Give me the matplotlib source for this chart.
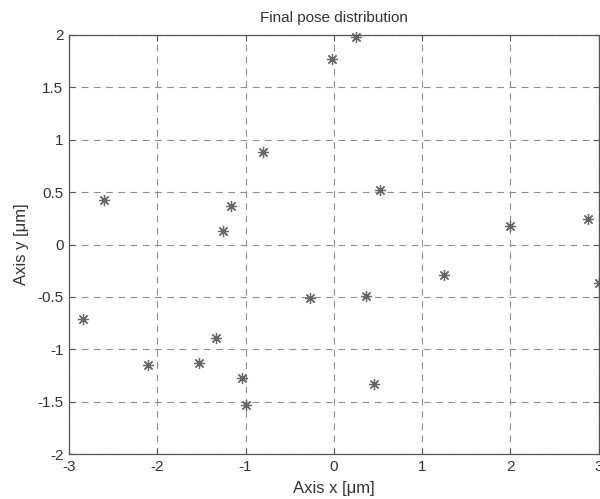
import numpy as np
import matplotlib.pyplot as plt

plt.rcParams['font.family'] = ['Liberation Sans', 'DejaVu Sans']

# final poses
pose_x = [-2.60, -2.84, -2.10, -1.53, -1.33, -1.04, -1.00, -1.26, -1.16, -0.80,
          -0.02, 0.25, 0.52, -0.27, 0.36, 0.45, 1.25, 2.00, 2.88, 3.00]
pose_y = [0.42, -0.71, -1.15, -1.13, -0.89, -1.27, -1.53, 0.13, 0.37, 0.88,
          1.77, 1.98, 0.52, -0.51, -0.49, -1.33, -0.29, 0.18, 0.24, -0.37]

x_ticks = [-3, -2, -1, 0, 1, 2, 3]
y_ticks = [-2, -1.5, -1, -0.5, 0, 0.5, 1, 1.5, 2]

fig = plt.figure(figsize=(6.0, 4.99), dpi=100)
ax = fig.add_axes([0.115, 0.090, 0.883, 0.840])

ax.plot(pose_x, pose_y, linestyle='none', marker=(8, 2, 0), markersize=8,
        markeredgewidth=0.9, color='#666666', clip_on=False)

ax.set_xlim(-3, 3)
ax.set_ylim(-2, 2)
ax.set_xticks(x_ticks)
ax.set_xticklabels([str(t) for t in x_ticks])
ax.set_yticks(y_ticks)
ax.set_yticklabels(['-2', '-1.5', '-1', '-0.5', '0', '0.5', '1', '1.5', '2'])

ax.grid(True, linestyle=(0, (6, 5)), color='#8f8f8f', linewidth=0.8)
ax.tick_params(direction='in', length=4, width=0.8, color='#555555',
               top=True, right=True, labelsize=11, labelcolor='#333333', pad=4)
for s in ax.spines.values():
    s.set_color('#555555')
    s.set_linewidth(0.9)

ax.set_title('Final pose distribution', fontsize=11, color='#333333', pad=9)
ax.set_xlabel('Axis x [\u03bcm]', fontsize=12, color='#333333', labelpad=5)
ax.set_ylabel('Axis y [\u03bcm]', fontsize=12, color='#333333', labelpad=6)

fig.savefig('out.png', dpi=100, facecolor='white')
